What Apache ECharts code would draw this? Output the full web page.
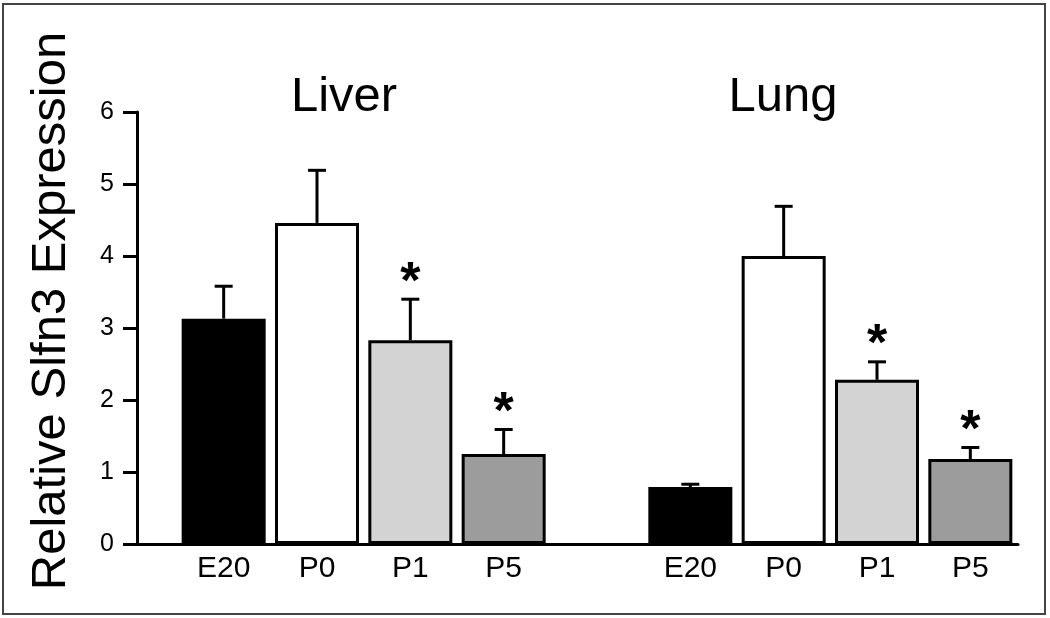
<!DOCTYPE html>
<html>
<head>
<meta charset="utf-8">
<script src="https://cdn.jsdelivr.net/npm/echarts@6/dist/echarts.min.js"></script>
<style>
html,body{margin:0;padding:0;background:#fff;}
#chart{width:1050px;height:618px;}
</style>
</head>
<body>
<div id="chart"></div>
<script>
// ---- data ----
var groups = ['Liver', 'Lung'];
var stages = ['E20', 'P0', 'P1', 'P5'];
var liverValues = [3.13, 4.46, 2.83, 1.25];
var liverErrTop = [3.58, 5.19, 3.40, 1.59];
var lungValues = [0.79, 4.00, 2.28, 1.18];
var lungErrTop = [0.83, 4.69, 2.53, 1.34];
var liverSig = [false, false, true, true];
var lungSig = [false, false, true, true];
var yTicks = [0, 1, 2, 3, 4, 5, 6];
var yTitle = 'Relative Slfn3 Expression';
var stageColors = ['#000000', '#ffffff', '#d3d3d3', '#9c9c9c'];

// build category slots: 4 liver, 1 empty gap, 4 lung
var categories = stages.concat(['']).concat(stages);
var barData = [];
var errData = [];
function addGroup(vals, errs, sig, offset) {
  for (var i = 0; i < vals.length; i++) {
    barData.push({ value: vals[i], itemStyle: { color: stageColors[i] } });
    errData.push([offset + i, vals[i], errs[i], sig[i] ? 1 : 0]);
  }
}
addGroup(liverValues, liverErrTop, liverSig, 0);
barData.push({ value: null });
addGroup(lungValues, lungErrTop, lungSig, 5);

var FONT = 'Liberation Sans, Arial, Helvetica, sans-serif';
var chart = echarts.init(document.getElementById('chart'), null, { renderer: 'canvas' });

var option = {
  backgroundColor: '#ffffff',
  animation: false,
  title: [
    { text: groups[0], left: 339, top: 68, textAlign: 'center',
      textStyle: { fontFamily: FONT, fontSize: 49, fontWeight: 'normal', color: '#000' } },
    { text: groups[1], left: 778, top: 68, textAlign: 'center',
      textStyle: { fontFamily: FONT, fontSize: 49, fontWeight: 'normal', color: '#000' } }
  ],
  graphic: [
    { type: 'rect', shape: { x: 3, y: 4, width: 1042, height: 610 },
      style: { fill: 'none', stroke: '#444', lineWidth: 2 }, silent: true },
    { type: 'text', x: 51, y: 311, rotation: Math.PI / 2, silent: true,
      style: { text: yTitle, fill: '#000', font: '49px ' + FONT,
        textAlign: 'center', textVerticalAlign: 'middle' } }
  ],
  grid: [
    { left: 137, right: 32, top: 112, bottom: 74, containLabel: false },
    { left: 177, right: 33, top: 112, bottom: 74, containLabel: false }
  ],
  xAxis: [
    { type: 'value', gridIndex: 0, min: 0, max: 1,
      axisLine: { show: true, lineStyle: { color: '#000', width: 3 } },
      axisTick: { show: false }, axisLabel: { show: false }, splitLine: { show: false } },
    { type: 'category', gridIndex: 1, data: categories,
      axisLine: { show: false }, axisTick: { show: false }, splitLine: { show: false },
      axisLabel: { show: true, interval: 0, margin: 10, color: '#000',
        fontFamily: FONT, fontSize: 30 } }
  ],
  yAxis: [
    { type: 'value', gridIndex: 0, min: 0, max: 6, interval: 1,
      axisLine: { show: true, lineStyle: { color: '#000', width: 3 } },
      axisTick: { show: true, inside: false, length: 14, lineStyle: { color: '#000', width: 3 } },
      axisLabel: { show: true, margin: 23, color: '#000', fontFamily: FONT, fontSize: 25,
        formatter: function (v) { return yTicks.indexOf(v) >= 0 ? String(v) : ''; } },
      splitLine: { show: false } },
    { type: 'value', gridIndex: 1, min: 0, max: 6, interval: 1, show: false,
      splitLine: { show: false } }
  ],
  series: [
    { type: 'bar', xAxisIndex: 1, yAxisIndex: 1, data: barData, barWidth: 84,
      itemStyle: { borderColor: '#000', borderWidth: 3 }, z: 2 },
    { type: 'custom', xAxisIndex: 1, yAxisIndex: 1, data: errData, z: 3,
      renderItem: function (params, api) {
        var x = api.value(0);
        var base = api.coord([x, api.value(1)]);
        var top = api.coord([x, api.value(2)]);
        var cap = 9;
        var children = [
          { type: 'line', shape: { x1: base[0], y1: base[1], x2: top[0], y2: top[1] },
            style: { stroke: '#000', lineWidth: 3 } },
          { type: 'line', shape: { x1: top[0] - cap, y1: top[1], x2: top[0] + cap, y2: top[1] },
            style: { stroke: '#000', lineWidth: 3 } }
        ];
        if (api.value(3) === 1) {
          children.push({ type: 'text', x: top[0], y: top[1] - 16,
            style: { text: '*', fill: '#000', font: 'bold 52px ' + FONT,
              textAlign: 'center', textVerticalAlign: 'middle' } });
        }
        return { type: 'group', children: children };
      } }
  ]
};
chart.setOption(option);
</script>
</body>
</html>
